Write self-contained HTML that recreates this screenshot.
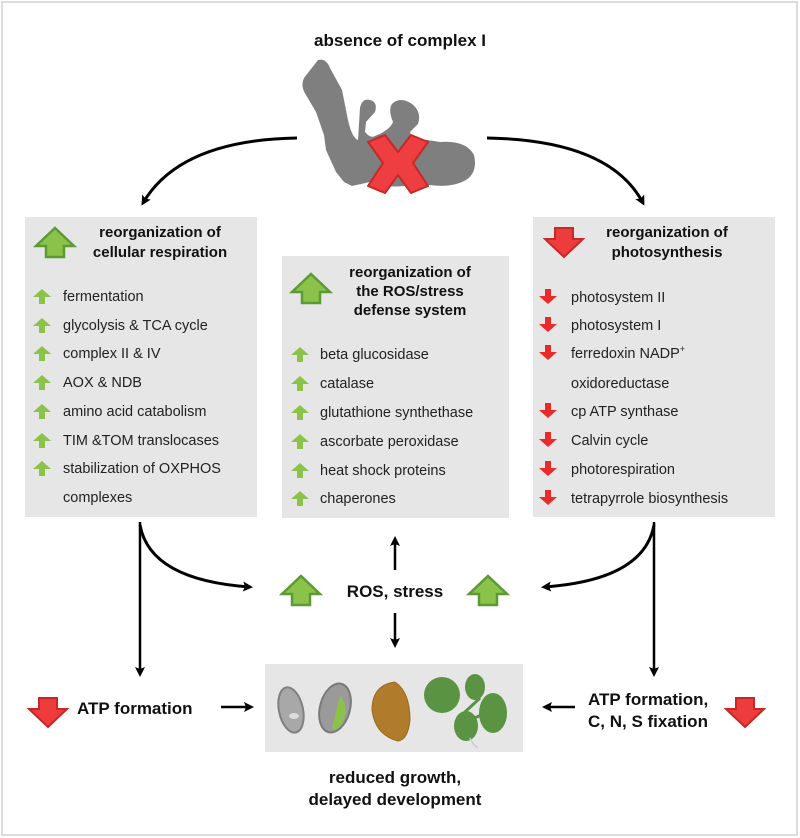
<!DOCTYPE html>
<html><head><style>body{margin:0;background:#fff}svg{display:block}</style></head><body>
<svg width="800" height="838" viewBox="0 0 800 838" xmlns="http://www.w3.org/2000/svg" font-family="Liberation Sans, Arial, sans-serif">
<defs>
<marker id="ah" markerWidth="10" markerHeight="10" refX="7" refY="5" orient="auto" markerUnits="userSpaceOnUse"><path d="M0,0 L10,5 L0,10 L2,5 Z" fill="#000"/></marker>
<g id="gup"><path d="M0,-14 L19,4 L9,4 L9,15 L-9,15 L-9,4 L-19,4 Z" fill="#8bc34a" stroke="#5d9a35" stroke-width="2.5" stroke-linejoin="miter"/></g>
<g id="rdn"><path d="M0,15 L19,-3 L9,-3 L9,-14 L-9,-14 L-9,-3 L-19,-3 Z" fill="#ee3b3b" stroke="#c62828" stroke-width="2" /></g>
<g id="sgu"><path d="M0,-7 L9,1 L3,1 L3,8 L-3,8 L-3,1 L-9,1 Z" fill="#8bc34a"/></g>
<g id="srd"><path d="M0,7 L9,-1 L3,-1 L3,-8 L-3,-8 L-3,-1 L-9,-1 Z" fill="#e92a2a"/></g>
</defs>
<rect x="2" y="2" width="795" height="833" fill="#fff" stroke="#dcdcdc" stroke-width="2"/>
<text x="400" y="46" text-anchor="middle" font-weight="bold" font-size="17" fill="#111">absence of complex I</text>
<path d="M318,60 Q326,58 330,68 L342,90 L348,120 Q352,138 358,140 L360,108 Q362,98 370,100 Q378,102 375,112 L366,122 L365,132 L368,135 Q372,138 375,136 Q390,130 393,122 Q388,110 392,104 Q400,96 412,104 Q422,112 418,124 L410,132 L412,138 Q428,140 440,142 Q466,140 474,155 Q478,172 466,180 Q452,188 430,185 L405,186 Q380,188 370,182 L352,186 L344,182 L336,172 L326,150 L324,135 L316,112 L306,95 Q300,86 304,78 Z" fill="#7f7f7f"/>
<path d="M368,142 L385,135 L398,152 L411,135 L428,142 L413,163 L428,186 L411,193 L398,175 L385,193 L368,186 L383,163 Z" fill="#ef3e42" stroke="#c62828" stroke-width="2" stroke-linejoin="round"/>
<path d="M297,138 Q180,140 143,203" fill="none" stroke="#000" stroke-width="3" marker-end="url(#ah)"/>
<path d="M487,138 Q610,140 643,203" fill="none" stroke="#000" stroke-width="3" marker-end="url(#ah)"/>
<rect x="25" y="217" width="232" height="300" fill="#e6e6e6"/>
<rect x="282" y="256" width="227" height="262" fill="#e6e6e6"/>
<rect x="533" y="217" width="242" height="300" fill="#e6e6e6"/>
<use href="#gup" x="55" y="242"/>
<use href="#gup" x="311" y="288"/>
<use href="#rdn" x="564" y="242"/>
<g font-weight="bold" font-size="15" fill="#111" text-anchor="middle">
<text x="160" y="237">reorganization of</text><text x="160" y="257">cellular respiration</text>
<text x="410" y="277">reorganization of</text><text x="410" y="296">the ROS/stress</text><text x="410" y="315">defense system</text>
<text x="667" y="237">reorganization of</text><text x="667" y="257">photosynthesis</text>
</g>
<g font-size="14.5" fill="#222">
<text x="63" y="301">fermentation</text><text x="63" y="330">glycolysis &amp; TCA cycle</text><text x="63" y="358">complex II &amp; IV</text><text x="63" y="387">AOX &amp; NDB</text><text x="63" y="416">amino acid catabolism</text><text x="63" y="445">TIM &amp;TOM translocases</text><text x="63" y="473">stabilization of OXPHOS</text><text x="63" y="502">complexes</text>
<text x="320" y="359">beta glucosidase</text><text x="320" y="388">catalase</text><text x="320" y="417">glutathione synthethase</text><text x="320" y="446">ascorbate peroxidase</text><text x="320" y="475">heat shock proteins</text><text x="320" y="503">chaperones</text>
<text x="571" y="302">photosystem II</text><text x="571" y="330">photosystem I</text><text x="571" y="358">ferredoxin NADP<tspan font-size="9" dy="-6">+</tspan></text><text x="571" y="388">oxidoreductase</text><text x="571" y="416">cp ATP synthase</text><text x="571" y="445">Calvin cycle</text><text x="571" y="474">photorespiration</text><text x="571" y="503">tetrapyrrole biosynthesis</text>
</g>
<g>
<use href="#sgu" x="42" y="296"/><use href="#sgu" x="42" y="325"/><use href="#sgu" x="42" y="353"/><use href="#sgu" x="42" y="382"/><use href="#sgu" x="42" y="411"/><use href="#sgu" x="42" y="440"/><use href="#sgu" x="42" y="468"/>
<use href="#sgu" x="300" y="354"/><use href="#sgu" x="300" y="383"/><use href="#sgu" x="300" y="412"/><use href="#sgu" x="300" y="441"/><use href="#sgu" x="300" y="470"/><use href="#sgu" x="300" y="498"/>
<use href="#srd" x="548" y="297"/><use href="#srd" x="548" y="325"/><use href="#srd" x="548" y="353"/><use href="#srd" x="548" y="411"/><use href="#srd" x="548" y="440"/><use href="#srd" x="548" y="469"/><use href="#srd" x="548" y="498"/>
</g>
<path d="M140,522 L140,674" stroke="#000" stroke-width="2.5" marker-end="url(#ah)"/>
<path d="M140,525 Q150,580 250,587" fill="none" stroke="#000" stroke-width="3" marker-end="url(#ah)"/>
<path d="M654,522 L654,674" stroke="#000" stroke-width="2.5" marker-end="url(#ah)"/>
<path d="M654,525 Q644,580 544,587" fill="none" stroke="#000" stroke-width="3" marker-end="url(#ah)"/>
<path d="M395,570 L395,539" stroke="#000" stroke-width="2.5" marker-end="url(#ah)"/>
<path d="M395,613 L395,645" stroke="#000" stroke-width="2.5" marker-end="url(#ah)"/>
<use href="#gup" x="301" y="590"/><use href="#gup" x="488" y="590"/>
<text x="395" y="597" text-anchor="middle" font-weight="bold" font-size="17" fill="#111">ROS, stress</text>
<use href="#rdn" x="48" y="712"/>
<text x="77" y="714" font-weight="bold" font-size="17" fill="#111">ATP formation</text>
<path d="M221,707 L251,707" stroke="#000" stroke-width="2.5" marker-end="url(#ah)"/>
<path d="M575,707 L545,707" stroke="#000" stroke-width="2.5" marker-end="url(#ah)"/>
<text x="588" y="705" font-weight="bold" font-size="17" fill="#111">ATP formation,</text>
<text x="588" y="727" font-weight="bold" font-size="17" fill="#111">C, N, S fixation</text>
<use href="#rdn" x="745" y="712"/>
<rect x="265" y="664" width="258" height="88" fill="#e6e6e6"/>
<ellipse cx="291" cy="710" rx="12" ry="23" fill="#a8a8a8" stroke="#808080" stroke-width="2" transform="rotate(-12 291 710)"/>
<ellipse cx="294" cy="716" rx="5" ry="3" fill="#ddd"/>
<ellipse cx="335" cy="708" rx="15" ry="25" fill="#9a9a9a" stroke="#7a7a7a" stroke-width="2" transform="rotate(15 335 708)"/>
<path d="M340,696 Q350,706 342,724 Q336,732 332,728 L336,712 Z" fill="#8bc34a"/>
<path d="M395,682 Q410,692 410,720 Q408,740 398,741 Q375,735 372,710 Q372,685 395,682 Z" fill="#b07c2c" stroke="#9a6a20"/>
<circle cx="442" cy="695" r="18" fill="#5a9442"/><ellipse cx="475" cy="687" rx="10" ry="13" fill="#5a9442"/><ellipse cx="493" cy="713" rx="14" ry="20" fill="#5a9442"/><ellipse cx="466" cy="726" rx="12" ry="15" fill="#5a9442"/>
<path d="M465,712 L480,698 M470,720 L488,712" stroke="#5a9442" stroke-width="3"/>
<path d="M470,738 Q472,744 478,748" fill="none" stroke="#ccc" stroke-width="1.5"/>
<text x="395" y="783" text-anchor="middle" font-weight="bold" font-size="17" fill="#111">reduced growth,</text>
<text x="395" y="805" text-anchor="middle" font-weight="bold" font-size="17" fill="#111">delayed development</text>
</svg>
</body></html>
